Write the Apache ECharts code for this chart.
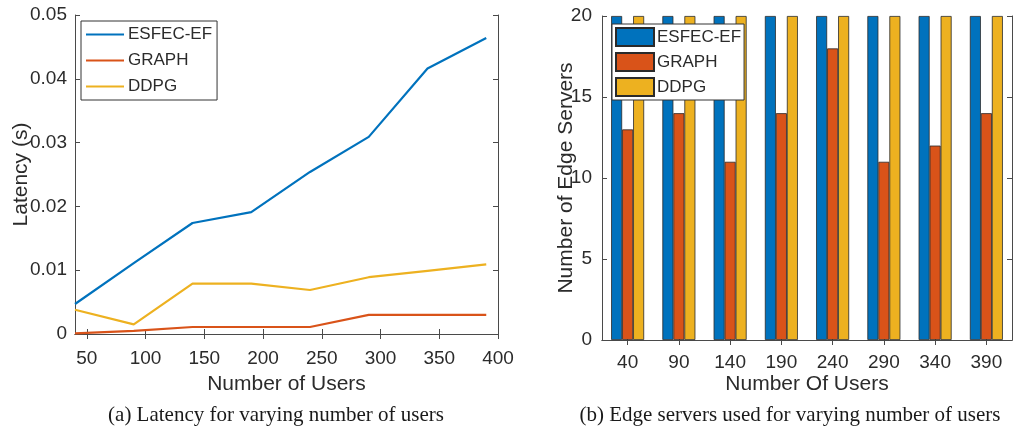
<!DOCTYPE html>
<html>
<head>
<meta charset="utf-8">
<script src="https://cdn.jsdelivr.net/npm/echarts@6/dist/echarts.min.js"></script>
<style>
  html, body { margin: 0; padding: 0; background: #fff; }
  #chart { width: 1013px; height: 437px; }
</style>
</head>
<body>
<div id="chart"></div>
<script>
// ---- data ----
const users = [40, 90, 140, 190, 240, 290, 340, 390];
const latencyESFEC = [0.0047, 0.0111, 0.0174, 0.0191, 0.0254, 0.0309, 0.0416, 0.0464];
const latencyGRAPH = [0.0001, 0.0005, 0.0011, 0.0011, 0.0011, 0.0030, 0.0030, 0.0030];
const latencyDDPG = [0.0038, 0.0015, 0.0079, 0.0079, 0.0069, 0.0089, 0.0099, 0.0109];
const serversESFEC = [20, 20, 20, 20, 20, 20, 20, 20];
const serversGRAPH = [13, 14, 11, 14, 18, 11, 12, 14];
const serversDDPG = [20, 20, 20, 20, 20, 20, 20, 20];
const latencyXTicks = [50, 100, 150, 200, 250, 300, 350, 400];
const seriesNames = ['ESFEC-EF', 'GRAPH', 'DDPG'];
const captions = ['(a) Latency for varying number of users', '(b) Edge servers used for varying number of users'];

const C_BLUE = '#0072BD', C_RED = '#D95319', C_YEL = '#EDB120';
const AX = '#4a4a4a', TXT = '#2b2b2b';
const FONT = '"Liberation Sans", Arial, Helvetica, sans-serif';

const pairs = (ys) => users.map((u, i) => [u, ys[i]]);
const userCats = users.map(String);

const chart = echarts.init(document.getElementById('chart'), null, { renderer: 'canvas' });

const lineAxisCommon = {
  axisLine: { show: true, lineStyle: { color: AX, width: 1 } },
  splitLine: { show: false },
  axisLabel: { color: TXT, fontSize: 19, fontFamily: FONT },
  nameTextStyle: { color: TXT, fontSize: 21, fontFamily: FONT },
  nameMoveOverlap: false
};

const option = {
  animation: false,
  textStyle: { fontFamily: FONT },
  grid: [
    { left: 75, top: 15, width: 423, height: 319 },
    { left: 602, top: 16, width: 410, height: 324 }
  ],
  xAxis: [
    Object.assign({}, lineAxisCommon, {
      gridIndex: 0, type: 'value', min: 40, max: 400,
      axisTick: { show: true, inside: true, length: 5, customValues: latencyXTicks, lineStyle: { color: AX } },
      axisLabel: Object.assign({}, lineAxisCommon.axisLabel, { customValues: latencyXTicks, margin: 15 }),
      name: 'Number of Users', nameLocation: 'middle', nameGap: 40
    }),
    {
      gridIndex: 0, type: 'value', position: 'top', min: 40, max: 400,
      axisLine: { show: true, lineStyle: { color: AX } },
      axisTick: { show: true, inside: true, length: 5, customValues: latencyXTicks, lineStyle: { color: AX } },
      axisLabel: { show: false }, splitLine: { show: false }
    },
    {
      gridIndex: 1, type: 'category', data: userCats, boundaryGap: true,
      axisLine: { show: true, lineStyle: { color: AX } },
      axisTick: { show: true, inside: true, length: 5, alignWithLabel: true, lineStyle: { color: AX } },
      axisLabel: { color: TXT, fontSize: 19, fontFamily: FONT, margin: 13 },
      splitLine: { show: false },
      name: 'Number Of Users', nameLocation: 'middle', nameGap: 34, nameMoveOverlap: false,
      nameTextStyle: { color: TXT, fontSize: 21, fontFamily: FONT }
    },
    {
      gridIndex: 1, type: 'category', data: userCats, boundaryGap: true, position: 'top',
      axisLine: { show: true, lineStyle: { color: AX } },
      axisTick: { show: true, inside: true, length: 5, alignWithLabel: true, lineStyle: { color: AX } },
      axisLabel: { show: false }, splitLine: { show: false }
    }
  ],
  yAxis: [
    Object.assign({}, lineAxisCommon, {
      gridIndex: 0, type: 'value', min: 0, max: 0.05, interval: 0.01,
      axisTick: { show: true, inside: true, length: 5, lineStyle: { color: AX } },
      axisLabel: Object.assign({}, lineAxisCommon.axisLabel, { margin: 8 }),
      name: 'Latency (s)', nameLocation: 'middle', nameGap: 43, nameRotate: 90
    }),
    {
      gridIndex: 0, type: 'value', position: 'right', min: 0, max: 0.05, interval: 0.01,
      axisLine: { show: true, lineStyle: { color: AX } },
      axisTick: { show: true, inside: true, length: 5, lineStyle: { color: AX } },
      axisLabel: { show: false }, splitLine: { show: false }
    },
    {
      gridIndex: 1, type: 'value', min: 0, max: 20, interval: 5,
      axisLine: { show: true, lineStyle: { color: AX } },
      axisTick: { show: true, inside: true, length: 5, lineStyle: { color: AX } },
      axisLabel: { color: TXT, fontSize: 19, fontFamily: FONT, margin: 10 },
      splitLine: { show: false },
      name: 'Number of Edge Servers', nameLocation: 'middle', nameGap: 25, nameRotate: 90, nameMoveOverlap: false,
      nameTextStyle: { color: TXT, fontSize: 21, fontFamily: FONT }
    },
    {
      gridIndex: 1, type: 'value', position: 'right', min: 0, max: 20, interval: 5,
      axisLine: { show: true, lineStyle: { color: AX } },
      axisTick: { show: true, inside: true, length: 5, lineStyle: { color: AX } },
      axisLabel: { show: false }, splitLine: { show: false }
    }
  ],
  legend: [
    {
      orient: 'vertical', left: 81, top: 21,
      data: seriesNames,
      selectedMode: false,
      itemWidth: 38, itemHeight: 14, itemGap: 9,
      itemStyle: { opacity: 0 },
      padding: [5, 5, 5, 4],
      backgroundColor: '#fff', borderColor: '#333', borderWidth: 1,
      textStyle: { color: TXT, fontSize: 17, fontFamily: FONT, padding: [0, 0, 0, -1] }
    },
    {
      orient: 'vertical', left: 612, top: 24,
      data: seriesNames.map(n => 'bar:' + n),
      formatter: (n) => n.replace('bar:', ''),
      selectedMode: false,
      icon: 'rect',
      itemWidth: 38, itemHeight: 18, itemGap: 5,
      padding: [3, 3, 3, 3],
      backgroundColor: '#fff', borderColor: '#333', borderWidth: 1,
      textStyle: { color: TXT, fontSize: 17, fontFamily: FONT, padding: [0, 0, 0, -2] }
    }
  ],
  series: [
    { name: seriesNames[0], type: 'line', xAxisIndex: 0, yAxisIndex: 0, data: pairs(latencyESFEC),
      symbol: 'none', lineStyle: { color: C_BLUE, width: 2.2 }, itemStyle: { color: C_BLUE } },
    { name: seriesNames[1], type: 'line', xAxisIndex: 0, yAxisIndex: 0, data: pairs(latencyGRAPH),
      symbol: 'none', lineStyle: { color: C_RED, width: 2.2 }, itemStyle: { color: C_RED } },
    { name: seriesNames[2], type: 'line', xAxisIndex: 0, yAxisIndex: 0, data: pairs(latencyDDPG),
      symbol: 'none', lineStyle: { color: C_YEL, width: 2.2 }, itemStyle: { color: C_YEL } },
    { name: 'bar:' + seriesNames[0], type: 'bar', xAxisIndex: 2, yAxisIndex: 2, data: serversESFEC,
      barWidth: 11, barGap: '0%',
      itemStyle: { color: C_BLUE, borderColor: '#2a2a2a', borderWidth: 0.8 } },
    { name: 'bar:' + seriesNames[1], type: 'bar', xAxisIndex: 2, yAxisIndex: 2, data: serversGRAPH,
      barWidth: 11, barGap: '0%',
      itemStyle: { color: C_RED, borderColor: '#2a2a2a', borderWidth: 0.8 } },
    { name: 'bar:' + seriesNames[2], type: 'bar', xAxisIndex: 2, yAxisIndex: 2, data: serversDDPG,
      barWidth: 11, barGap: '0%',
      itemStyle: { color: C_YEL, borderColor: '#2a2a2a', borderWidth: 0.8 } }
  ],
  graphic: [
    { type: 'text', x: 276, y: 415,
      style: { text: captions[0], align: 'center', verticalAlign: 'middle',
               fontSize: 21, fontFamily: '"Liberation Serif", "Times New Roman", serif', fill: '#1a1a1a' } },
    { type: 'text', x: 790, y: 415,
      style: { text: captions[1], align: 'center', verticalAlign: 'middle',
               fontSize: 21, fontFamily: '"Liberation Serif", "Times New Roman", serif', fill: '#1a1a1a' } }
  ]
};

chart.setOption(option);
</script>
</body>
</html>
